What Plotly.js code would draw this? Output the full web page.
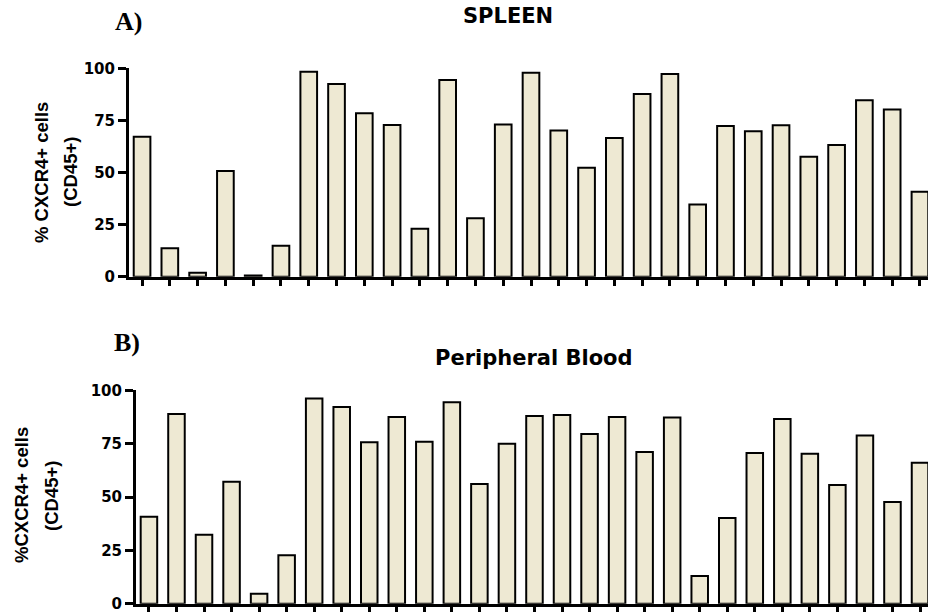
<!DOCTYPE html>
<html>
<head>
<meta charset="utf-8">
<script src="https://cdn.plot.ly/plotly-3.0.1.min.js"></script>
<style>html,body{margin:0;padding:0;background:#fff;}#chart{width:928px;height:612px;}</style>
</head>
<body>
<div id="chart"></div>
<script>
// Sample indices (29 per panel)
const samples = Array.from({length: 29}, (_, i) => i);

// A) SPLEEN: % CXCR4+ cells (CD45+)
const spleenValues = [67.2, 13.6, 1.9, 50.7, 0.6, 14.9, 98.4, 92.5, 78.4, 72.8, 23.0, 94.4,
  28.0, 73.0, 97.9, 70.1, 52.3, 66.6, 87.7, 97.3, 34.6, 72.3, 69.8, 72.7, 57.5, 63.2, 84.7, 80.2, 40.8];

// B) Peripheral Blood: %CXCR4+ cells (CD45+)
const bloodValues = [40.8, 88.9, 32.3, 57.2, 4.7, 22.7, 96.1, 92.2, 75.6, 87.5, 75.9, 94.4,
  56.1, 75.0, 88.0, 88.4, 79.5, 87.5, 71.1, 87.2, 13.0, 40.2, 70.6, 86.6, 70.3, 55.6, 78.8, 47.7, 66.1];

const yTickVals = [0, 25, 50, 75, 100];
const yTickText = ['0', '25', '50', '75', '100'];

const W = 928, H = 612;
const px = x => x / W;
const py = y => 1 - y / H;

const barStyle = {color: '#EEE9D3', line: {color: '#000', width: 2}};

const traces = [
  {type: 'bar', x: samples, y: spleenValues, xaxis: 'x', yaxis: 'y', width: 0.6, marker: barStyle, hoverinfo: 'y'},
  {type: 'bar', x: samples, y: bloodValues, xaxis: 'x2', yaxis: 'y2', width: 0.6, marker: barStyle, hoverinfo: 'y'}
];

const tickFont = {family: 'DejaVu Sans', size: 15, color: '#000', weight: 700};

function xAxis(domainLeft, anchor) {
  return {
    domain: [domainLeft, 1], anchor: anchor,
    range: [-0.47, 28.29],
    showline: true, linecolor: '#000', linewidth: 3,
    ticks: 'outside', ticklen: 6, tickwidth: 3, tickcolor: '#000',
    tickvals: samples, showticklabels: false,
    showgrid: false, zeroline: false, fixedrange: true
  };
}
function yAxis(domain, anchor) {
  return {
    domain: domain, anchor: anchor,
    range: [0, 100],
    showline: true, linecolor: '#000', linewidth: 3,
    ticks: 'outside', ticklen: 8, tickwidth: 3, tickcolor: '#000',
    tickvals: yTickVals, ticktext: yTickText, tickfont: tickFont,
    ticklabeloverflow: 'allow',
    showgrid: false, zeroline: false, fixedrange: true
  };
}

const titleFont = {family: 'DejaVu Sans', size: 21, color: '#000', weight: 700};
const letterFont = {family: 'Liberation Serif', size: 26, color: '#000', weight: 700};
const yTitleFont = {family: 'Liberation Sans', size: 18.5, color: '#000', weight: 700};

function ann(text, x, y, font, extra) {
  return Object.assign({text: text, xref: 'paper', yref: 'paper', x: px(x), y: py(y),
    xanchor: 'center', yanchor: 'middle', showarrow: false, font: font}, extra || {});
}

const layout = {
  width: W, height: H,
  margin: {l: 0, r: 0, t: 0, b: 0},
  paper_bgcolor: '#fff', plot_bgcolor: '#fff',
  showlegend: false, bargap: 0.4,
  xaxis: xAxis(px(129), 'y'),
  yaxis: yAxis([py(276.7), py(68.3)], 'x'),
  xaxis2: xAxis(px(136), 'y2'),
  yaxis2: yAxis([py(603.7), py(390.3)], 'x2'),
  annotations: [
    ann('A)', 128, 22, letterFont),
    ann('SPLEEN', 508, 16, titleFont),
    ann('% CXCR4+ cells', 41, 173, yTitleFont, {textangle: -90}),
    ann('(CD45+)', 70, 172, yTitleFont, {textangle: -90}),
    ann('B)', 127, 342, letterFont),
    ann('Peripheral Blood', 534, 358, titleFont),
    ann('%CXCR4+ cells', 21, 495, yTitleFont, {textangle: -90}),
    ann('(CD45+)', 51, 496, yTitleFont, {textangle: -90})
  ]
};

Plotly.newPlot('chart', traces, layout, {displayModeBar: false, staticPlot: true});
</script>
</body>
</html>
